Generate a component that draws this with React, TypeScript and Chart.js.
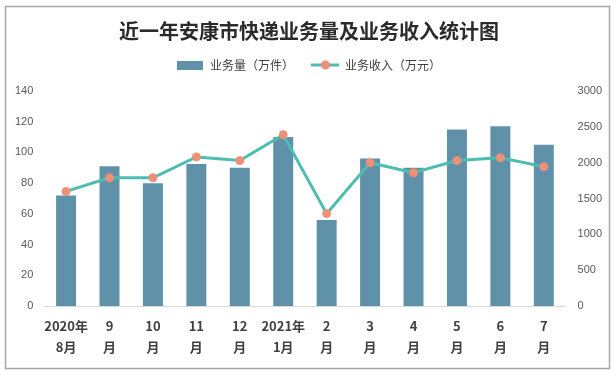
import React, { useEffect, useRef } from "react";
import { Chart, registerables } from "chart.js";

Chart.register(...registerables);

const categories: string[][] = [
  ["2020年", "8月"], ["9", "月"], ["10", "月"], ["11", "月"], ["12", "月"], ["2021年", "1月"],
  ["2", "月"], ["3", "月"], ["4", "月"], ["5", "月"], ["6", "月"], ["7", "月"],
];
const volume: number[] = [72, 91, 80, 92.5, 90, 110, 56, 96, 90, 115, 117, 105];
const revenue: number[] = [1600, 1790, 1790, 2080, 2030, 2390, 1290, 2000, 1860, 2030, 2070, 1945];

const barColor = "#5f92a8";
const lineColor = "#4dbdb1";
const pointColor = "#ef8f78";

function makeBarIcon() {
  const c = document.createElement("canvas");
  c.width = 26; c.height = 9;
  const ctx = c.getContext("2d")!;
  ctx.fillStyle = barColor;
  ctx.fillRect(0, 0, 26, 9);
  return c;
}
function makeLineIcon() {
  const c = document.createElement("canvas");
  c.width = 28; c.height = 12;
  const ctx = c.getContext("2d")!;
  ctx.strokeStyle = lineColor;
  ctx.lineWidth = 3;
  ctx.beginPath(); ctx.moveTo(0, 6); ctx.lineTo(28, 6); ctx.stroke();
  ctx.fillStyle = pointColor;
  ctx.beginPath(); ctx.arc(14, 6, 4.5, 0, Math.PI * 2); ctx.fill();
  return c;
}

const frame = {
  id: "frame",
  beforeDraw(chart: any) {
    const ctx = chart.ctx;
    ctx.save();
    ctx.fillStyle = "#ffffff";
    ctx.fillRect(0, 0, chart.width, chart.height);
    ctx.strokeStyle = "#a6a6a6";
    ctx.lineWidth = 1.5;
    ctx.strokeRect(5.5, 6.5, 604, 362);
    ctx.restore();
  },
};

const legendMargin = {
  id: "legendMargin",
  beforeInit(chart: any) {
    const legend = chart.legend;
    if (!legend) return;
    const orig = legend.fit;
    legend.fit = function () {
      orig.bind(legend)();
      this.height += 10;
    };
  },
};

export default function App() {
  const ref = useRef<HTMLCanvasElement>(null);
  useEffect(() => {
    const barIcon = makeBarIcon();
    const lineIcon = makeLineIcon();
    const chart = new Chart(ref.current!, {
      type: "bar",
      data: {
        labels: categories,
        datasets: [
          {
            type: "line",
            label: "业务收入（万元）",
            data: revenue,
            yAxisID: "y1",
            borderColor: lineColor,
            borderWidth: 3,
            pointBackgroundColor: pointColor,
            pointBorderColor: pointColor,
            pointBorderWidth: 1,
            pointRadius: 4,
            pointStyle: "circle",
            order: 0,
          } as any,
          {
            type: "bar",
            label: "业务量（万件）",
            data: volume,
            yAxisID: "y",
            backgroundColor: barColor,
            categoryPercentage: 1,
            barPercentage: 0.46,
            order: 1,
          },
        ],
      },
      options: {
        animation: false,
        responsive: false,
        layout: { padding: { top: 21, left: 4, right: 2, bottom: 9 } },
        plugins: {
          title: {
            display: true,
            text: "近一年安康市快递业务量及业务收入统计图",
            color: "#2b2b2b",
            font: { family: "Noto Sans CJK SC", size: 20, weight: "bold", lineHeight: 1.0 },
            padding: { top: 0, bottom: 0 },
          },
          legend: {
            display: true,
            labels: {
              usePointStyle: true,
              pointStyleWidth: 27,
              color: "#404040",
              font: { family: "Noto Sans CJK SC", size: 12 },
              padding: 18,
              generateLabels: () => [
                { text: "业务量（万件）", pointStyle: barIcon, datasetIndex: 1, fillStyle: barColor, strokeStyle: barColor, lineWidth: 0, fontColor: "#404040" },
                { text: "业务收入（万元）", pointStyle: lineIcon, datasetIndex: 0, fillStyle: pointColor, strokeStyle: lineColor, lineWidth: 0, fontColor: "#404040" },
              ],
            },
          },
          tooltip: { enabled: false },
        },
        scales: {
          x: {
            grid: { display: false, drawTicks: false },
            border: { display: true, color: "#d9d9d9" },
            ticks: {
              color: "#404040",
              font: { family: "Noto Sans CJK SC", size: 13, weight: "bold", lineHeight: 1.65 },
              maxRotation: 0,
              autoSkip: false,
              padding: 9,
            },
          },
          y: {
            position: "left",
            min: 0,
            max: 140,
            ticks: { stepSize: 20, color: "#595959", font: { family: "Liberation Sans", size: 11 }, padding: 11 },
            grid: { display: false, drawTicks: false },
            border: { display: false },
          },
          y1: {
            position: "right",
            min: 0,
            max: 3000,
            ticks: {
              stepSize: 500,
              color: "#595959",
              font: { family: "Liberation Sans", size: 11 },
              padding: 12,
              callback: (v: any) => String(v),
            },
            grid: { display: false, drawTicks: false },
            border: { display: false },
          },
        },
      },
      plugins: [frame, legendMargin],
    });
    return () => chart.destroy();
  }, []);
  return (
    <div style={{ position: "absolute", left: 0, top: 0, width: 616, height: 376 }}>
      <canvas ref={ref} width={616} height={376} style={{ display: "block" }} />
    </div>
  );
}
